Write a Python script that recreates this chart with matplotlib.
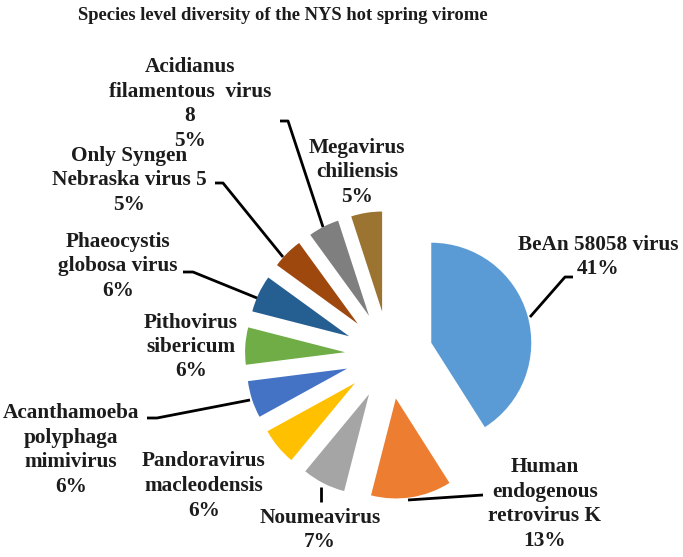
import matplotlib.pyplot as plt

# data
species = ["BeAn 58058 virus", "Human\nendogenous\nretrovirus K", "Noumeavirus",
           "Pandoravirus\nmacleodensis", "Acanthamoeba\npolyphaga\nmimivirus",
           "Pithovirus\nsibericum", "Phaeocystis\nglobosa virus",
           "Only Syngen\nNebraska virus 5", "Acidianus\nfilamentous  virus\n8",
           "Megavirus\nchiliensis"]
percent = [41, 13, 7, 6, 6, 6, 6, 5, 5, 5]
colors = ["#5b9bd5", "#ed7d31", "#a5a5a5", "#ffc000", "#4472c4",
          "#70ad47", "#255e91", "#9e480e", "#7f7f7f", "#9a7430"]

W, H = 683, 557
CX, CY, R = 389, 355, 100  # pie centre / radius in pixels


def px(x, y):
    return (x - CX) / R, (CY - y) / R


# label centre (pixels) and leader line points (pixels), same order as species
label_pos = [(598, 257), (545, 504), (320, 530), (204, 486), (71, 450),
             (191, 347), (118, 266), (129, 180), (190, 104), (357, 172)]
leaders = [
    [(530, 317), (565, 277), (573, 277)],
    [(408, 500), (483, 495)],
    [(321, 487), (321, 502)],
    None,
    [(147, 418), (157, 418), (250, 400)],
    None,
    [(183, 272), (193, 272), (257, 298)],
    [(215, 183), (223, 183), (283, 257)],
    [(280, 121), (288, 121), (323, 227)],
    None,
]

plt.rcParams['font.family'] = ['Liberation Serif', 'DejaVu Serif']

fig = plt.figure(figsize=(W / 100, H / 100), dpi=100)
ax = fig.add_axes([0, 0, 1, 1])

ax.pie(percent, colors=colors, startangle=90, counterclock=False, radius=1,
       explode=[0.44] * len(percent), wedgeprops=dict(linewidth=0))

ax.set_xlim(-CX / R, (W - CX) / R)
ax.set_ylim(-(H - CY) / R, CY / R)
ax.set_aspect('equal')
ax.axis('off')

for name, p, (lx, ly), pts in zip(species, percent, label_pos, leaders):
    x, y = px(lx, ly)
    ax.text(x, y, f"{name}\n{p}%", ha='center', va='center', fontsize=15.3,
            fontweight='bold', color='#1c1c1c', linespacing=1.3)
    if pts:
        xs, ys = zip(*[px(a, b) for a, b in pts])
        ax.plot(xs, ys, color='black', lw=2, solid_capstyle='butt')

tx, ty = px(283, 15)
ax.text(tx, ty, "Species level diversity of the NYS hot spring virome",
        ha='center', va='center', fontsize=13.4, fontweight='bold', color='#1c1c1c')

fig.savefig("out.png", dpi=100)
